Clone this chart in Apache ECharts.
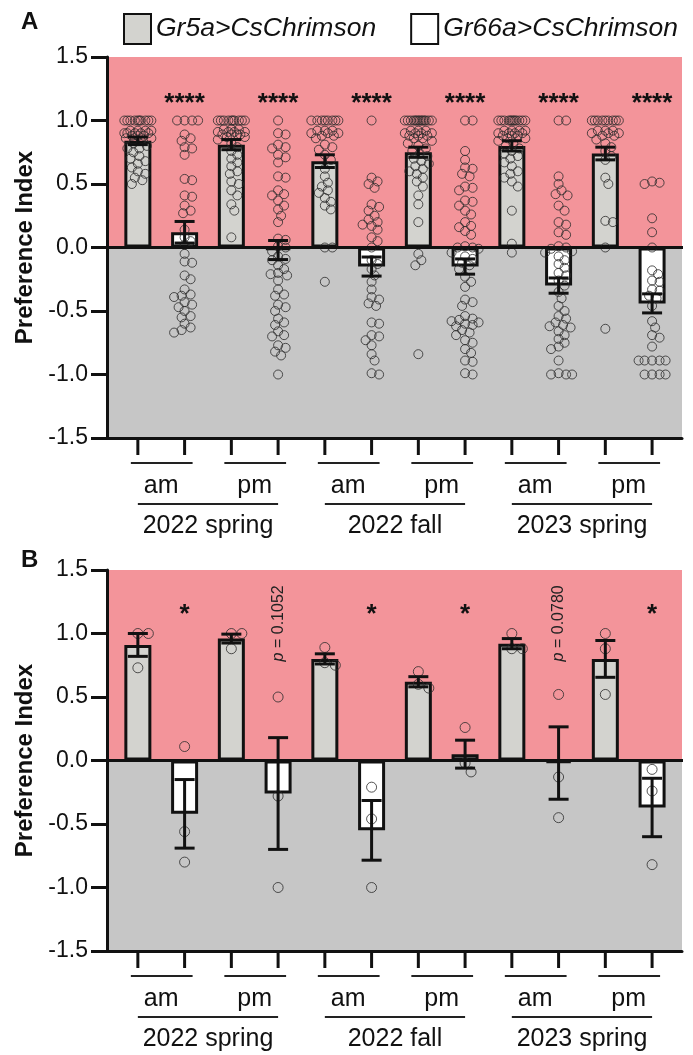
<!DOCTYPE html>
<html>
<head>
<meta charset="utf-8">
<script src="https://cdn.jsdelivr.net/npm/echarts@6/dist/echarts.min.js"></script>
<style>html,body{margin:0;padding:0;background:#fff}#c{width:693px;height:1055px}</style>
</head>
<body>
<div id="c"></div>
<script>
// ---------- data ----------
const seriesNames = ['Gr5a>CsChrimson', 'Gr66a>CsChrimson'];
const timeLabels = ['am', 'pm', 'am', 'pm', 'am', 'pm'];
const seasonLabels = ['2022 spring', '2022 fall', '2023 spring'];
const yTicks = [-1.5, -1.0, -0.5, 0.0, 0.5, 1.0, 1.5];

// Panel A
const aGr5aMean = [0.84, 0.81, 0.68, 0.75, 0.80, 0.74];
const aGr5aSem  = [0.03, 0.04, 0.05, 0.04, 0.04, 0.05];
const aGr66aMean = [0.12, -0.02, -0.15, -0.15, -0.30, -0.44];
const aGr66aSem  = [0.085, 0.075, 0.075, 0.06, 0.06, 0.075];
const aGr5aPts = [
  [1,1,1,1,1,1,1,1,1,1,0.92,0.92,0.92,0.92,0.90,0.90,0.90,0.90,0.90,0.88,0.88,0.88,0.86,0.86,0.84,0.82,0.80,0.78,0.78,0.75,0.72,0.70,0.68,0.66,0.63,0.60,0.58,0.55,0.53,0.50],
  [1,1,1,1,1,1,1,1,1,1,0.93,0.93,0.93,0.91,0.91,0.91,0.91,0.89,0.89,0.89,0.89,0.87,0.87,0.85,0.82,0.79,0.76,0.73,0.70,0.67,0.64,0.60,0.58,0.52,0.50,0.45,0.41,0.34,0.29,0.08],
  [1,1,1,1,1,1,1,1,0.92,0.92,0.92,0.90,0.90,0.90,0.88,0.88,0.86,0.81,0.79,0.77,0.73,0.69,0.62,0.56,0.51,0.48,0.45,0.43,0.39,0.36,0.33,0.30,0.0,0.0,-0.27],
  [1,1,1,1,1,1,1,1,1,1,1,1,1,1,0.92,0.92,0.92,0.90,0.90,0.90,0.90,0.88,0.88,0.88,0.86,0.86,0.84,0.82,0.80,0.78,0.76,0.74,0.72,0.70,0.68,0.66,0.64,0.62,0.60,0.58,0.55,0.52,0.48,0.41,0.34,0.20,-0.05,-0.10,-0.14,-0.84],
  [1,1,1,1,1,1,1,1,1,1,1,1,0.92,0.92,0.92,0.92,0.90,0.90,0.90,0.90,0.88,0.88,0.88,0.86,0.86,0.84,0.82,0.80,0.78,0.76,0.74,0.72,0.70,0.67,0.64,0.60,0.58,0.55,0.52,0.48,0.29,0.03,-0.04],
  [1,1,1,1,1,1,1,1,1,0.92,0.92,0.92,0.90,0.90,0.90,0.88,0.88,0.85,0.82,0.79,0.76,0.72,0.69,0.55,0.50,0.21,0.20,0.0,-0.64]
];
const aGr66aPts = [
  [1,1,1,1,0.89,0.86,0.84,0.79,0.78,0.73,0.54,0.53,0.41,0.40,0.33,0.29,0.27,0.14,0.08,0.05,0.02,-0.05,-0.11,-0.12,-0.22,-0.25,-0.33,-0.37,-0.38,-0.39,-0.43,-0.45,-0.47,-0.50,-0.54,-0.55,-0.60,-0.63,-0.65,-0.67],
  [1,0.90,0.89,0.81,0.79,0.78,0.73,0.71,0.67,0.56,0.55,0.45,0.42,0.41,0.37,0.33,0.30,0.25,0.20,0.07,0.06,0.01,0.0,-0.03,-0.07,-0.09,-0.10,-0.14,-0.17,-0.20,-0.21,-0.22,-0.26,-0.33,-0.37,-0.38,-0.45,-0.47,-0.50,-0.56,-0.59,-0.61,-0.66,-0.69,-0.70,-0.77,-0.79,-0.82,-0.85,-1.0],
  [1,0.55,0.52,0.50,0.47,0.34,0.32,0.29,0.25,0.22,0.20,0.18,0.17,0.14,0.08,0.05,0.0,-0.10,-0.13,-0.17,-0.22,-0.27,-0.33,-0.39,-0.41,-0.44,-0.46,-0.59,-0.60,-0.69,-0.70,-0.73,-0.77,-0.84,-0.89,-0.99,-1.0],
  [1,1,0.76,0.69,0.63,0.62,0.58,0.56,0.48,0.47,0.45,0.37,0.36,0.33,0.29,0.26,0.20,0.17,0.16,0.13,0.10,0.01,0.0,0.0,-0.01,-0.04,-0.07,-0.09,-0.12,-0.14,-0.17,-0.23,-0.27,-0.31,-0.41,-0.43,-0.46,-0.54,-0.56,-0.57,-0.58,-0.59,-0.60,-0.61,-0.62,-0.65,-0.67,-0.69,-0.73,-0.75,-0.80,-0.83,-0.89,-0.90,-0.99,-1.0],
  [1,1,0.56,0.50,0.45,0.42,0.41,0.33,0.29,0.20,0.18,0.12,0.10,0.01,0.0,-0.01,-0.03,-0.04,-0.07,-0.10,-0.13,-0.16,-0.20,-0.22,-0.26,-0.30,-0.35,-0.40,-0.46,-0.50,-0.54,-0.56,-0.59,-0.61,-0.62,-0.63,-0.66,-0.69,-0.72,-0.75,-0.78,-0.80,-0.89,-0.99,-1.0,-1.0,-1.0],
  [0.52,0.51,0.50,0.23,0.12,0.0,-0.18,-0.21,-0.26,-0.27,-0.33,-0.34,-0.38,-0.40,-0.46,-0.58,-0.63,-0.69,-0.71,-0.78,-0.89,-0.89,-0.89,-0.89,-0.89,-1.0,-1.0,-1.0,-1.0]
];
const aMarks = ['****', '****', '****', '****', '****', '****'];
const aMarkY = [1.19, 1.19, 1.19, 1.19, 1.19, 1.19];

// Panel B
const bGr5aMean = [0.91, 0.96, 0.80, 0.62, 0.92, 0.80];
const bGr5aSem  = [0.09, 0.035, 0.04, 0.04, 0.04, 0.145];
const bGr66aMean = [-0.42, -0.26, -0.55, 0.05, -0.02, -0.37];
const bGr66aSem  = [0.27, 0.44, 0.235, 0.11, 0.285, 0.23];
const bGr5aPts = [[1.0,1.0,0.73],[1.0,1.0,0.88],[0.89,0.77,0.75],[0.70,0.60,0.57],[1.0,0.88,0.88],[1.0,0.88,0.52]];
const bGr66aPts = [[0.11,-0.56,-0.80],[0.50,-0.28,-1.0],[-0.21,-0.46,-1.0],[0.26,-0.02,-0.09],[0.52,-0.13,-0.45],[-0.07,-0.24,-0.82]];
const bMarks = ['*', 'p = 0.1052', '*', '*', 'p = 0.0780', '*'];
const bMarkY = [1.2, 1.08, 1.2, 1.2, 1.08, 1.2];

// ---------- layout / style ----------
const FONT = 'Liberation Sans, Arial, sans-serif';
const X_MIN = -0.66, X_MAX = 11.64;
const PINK = '#F3949A', GREY_BG = '#C6C6C6', BAR_GREY = '#D3D3CF', INK = '#111';
const gridsPx = [{left: 107, top: 57, width: 575, height: 381}, {left: 107, top: 570, width: 575, height: 381}];

function swarm(values, center, pxX, pxY, D, maxW) {
  const placed = [], out = [];
  values.forEach(v => {
    const y = v * pxY;
    let best = 0, bestScore = -1;
    outer:
    for (let k = 0; k <= maxW / 1.5; k++) {
      for (const s of (k === 0 ? [1] : [1, -1])) {
        const dx = s * k * 1.5;
        let minD = Infinity;
        for (const p of placed) minD = Math.min(minD, Math.hypot(dx - p.x, y - p.y));
        if (minD >= D) { best = dx; bestScore = Infinity; break outer; }
        if (minD > bestScore) { bestScore = minD; best = dx; }
      }
    }
    placed.push({x: best, y});
    out.push([center + best / pxX, v]);
  });
  return out;
}

const series = [];
const xAxes = [], yAxes = [];

function panel(gi, m5, s5, m66, s66, p5, p66, marks, markY, dotD, maxW, dotSize) {
  const g = gridsPx[gi];
  const pxX = g.width / (X_MAX - X_MIN), pxY = g.height / 3;
  xAxes.push({gridIndex: gi, type: 'value', min: X_MIN, max: X_MAX, z: 10,
    axisLine: {show: true, onZero: false, lineStyle: {color: INK, width: 3}},
    axisTick: {show: false}, axisLabel: {show: false}, splitLine: {show: false}});
  yAxes.push({gridIndex: gi, type: 'value', min: yTicks[0], max: yTicks[yTicks.length - 1], interval: 0.5, z: 10,
    axisLine: {show: true, onZero: false, lineStyle: {color: INK, width: 3}},
    axisTick: {show: true, length: 16, lineStyle: {color: INK, width: 3}},
    axisLabel: {margin: 19, fontSize: 23, color: INK, fontFamily: FONT, formatter: v => v.toFixed(1)},
    splitLine: {show: false},
    name: 'Preference Index', nameLocation: 'middle', nameGap: 66,
    nameTextStyle: {fontSize: 24, fontWeight: 'bold', color: INK, fontFamily: FONT}});

  // background halves
  series.push({type: 'custom', xAxisIndex: gi, yAxisIndex: gi, z: 0, silent: true, clip: false,
    data: [[0]],
    renderItem: (params, api) => {
      const tl = api.coord([X_MIN, 1.5]), mid = api.coord([X_MAX, 0]), br = api.coord([X_MAX, -1.5]);
      return {type: 'group', children: [
        {type: 'rect', shape: {x: tl[0], y: tl[1], width: mid[0] - tl[0], height: mid[1] - tl[1]}, style: {fill: PINK}},
        {type: 'rect', shape: {x: tl[0], y: mid[1], width: br[0] - tl[0], height: br[1] - mid[1]}, style: {fill: GREY_BG}}
      ]};
    }});

  // bars
  series.push({name: seriesNames[0], type: 'bar', xAxisIndex: gi, yAxisIndex: gi, z: 2, barWidth: 27, barGap: '-100%',
    itemStyle: {color: BAR_GREY, borderColor: INK, borderWidth: 3}, silent: true,
    data: m5.map((v, i) => [2 * i, v])});
  series.push({name: seriesNames[1], type: 'bar', xAxisIndex: gi, yAxisIndex: gi, z: 2, barWidth: 27, barGap: '-100%',
    itemStyle: {color: '#FFFFFF', borderColor: INK, borderWidth: 3}, silent: true,
    data: m66.map((v, i) => [2 * i + 1, v])});

  // dots
  const dots = [];
  p5.forEach((vals, i) => dots.push(...swarm(vals, 2 * i, pxX, pxY, dotD, maxW)));
  p66.forEach((vals, i) => dots.push(...swarm(vals, 2 * i + 1, pxX, pxY, dotD, maxW)));
  series.push({type: 'scatter', xAxisIndex: gi, yAxisIndex: gi, z: 3, symbol: 'circle', symbolSize: dotSize, silent: true,
    itemStyle: {color: 'rgba(0,0,0,0)', borderColor: '#2b2b2b', borderWidth: 1}, data: dots});

  // error bars
  const eb = [];
  m5.forEach((v, i) => eb.push([2 * i, v, s5[i]]));
  m66.forEach((v, i) => eb.push([2 * i + 1, v, s66[i]]));
  series.push({type: 'custom', xAxisIndex: gi, yAxisIndex: gi, z: 4, silent: true, clip: false, data: eb,
    renderItem: (params, api) => {
      const x = api.value(0), m = api.value(1), s = api.value(2);
      const t = api.coord([x, m + s]), b = api.coord([x, m - s]);
      const st = {stroke: INK, lineWidth: 3};
      return {type: 'group', children: [
        {type: 'line', shape: {x1: t[0], y1: t[1], x2: b[0], y2: b[1]}, style: st},
        {type: 'line', shape: {x1: t[0] - 10, y1: t[1], x2: t[0] + 10, y2: t[1]}, style: st},
        {type: 'line', shape: {x1: b[0] - 10, y1: b[1], x2: b[0] + 10, y2: b[1]}, style: st}
      ]};
    }});

  // zero line
  series.push({type: 'custom', xAxisIndex: gi, yAxisIndex: gi, z: 5, silent: true, clip: false, data: [[0]],
    renderItem: (params, api) => {
      const a = api.coord([X_MIN, 0]), b = api.coord([X_MAX, 0]);
      return {type: 'line', shape: {x1: a[0], y1: a[1], x2: b[0] + 1, y2: b[1]}, style: {stroke: INK, lineWidth: 3}};
    }});

  // significance marks
  series.push({type: 'custom', xAxisIndex: gi, yAxisIndex: gi, z: 6, silent: true, clip: false,
    data: marks.map((t, i) => [2 * i + 1, markY[i], i]),
    renderItem: (params, api) => {
      const p = api.coord([api.value(0), api.value(1)]);
      const label = marks[api.value(2)];
      if (label.charAt(0) === 'p') {
        return {type: 'text', x: p[0], y: p[1], rotation: Math.PI / 2,
          style: {text: '{i|p}' + label.slice(1), rich: {i: {fontStyle: 'italic', fontSize: 16, fontFamily: FONT, fill: '#222'}},
            fontSize: 16, fontFamily: FONT, fill: '#222', align: 'center', verticalAlign: 'middle'}};
      }
      return {type: 'text', x: p[0], y: p[1] + 7,
        style: {text: label, fontSize: 26, fontWeight: 'bold', fontFamily: FONT, fill: INK, align: 'center', verticalAlign: 'middle'}};
    }});

  // x ticks + am/pm labels
  series.push({type: 'custom', xAxisIndex: gi, yAxisIndex: gi, z: 6, silent: true, clip: false,
    data: timeLabels.map((t, i) => [2 * i, 2 * i + 1, i]),
    renderItem: (params, api) => {
      const a = api.coord([api.value(0), -1.5]), b = api.coord([api.value(1), -1.5]);
      const y0 = a[1];
      const st = {stroke: INK, lineWidth: 3};
      return {type: 'group', children: [
        {type: 'line', shape: {x1: a[0], y1: y0, x2: a[0], y2: y0 + 17}, style: st},
        {type: 'line', shape: {x1: b[0], y1: y0, x2: b[0], y2: y0 + 17}, style: st},
        {type: 'line', shape: {x1: a[0] - 7, y1: y0 + 25, x2: b[0] + 8, y2: y0 + 25}, style: {stroke: '#222', lineWidth: 2}},
        {type: 'text', x: (a[0] + b[0]) / 2, y: y0 + 48,
          style: {text: timeLabels[api.value(2)], fontSize: 25, fontFamily: FONT, fill: INK, align: 'center', verticalAlign: 'middle'}}
      ]};
    }});

  // season labels
  series.push({type: 'custom', xAxisIndex: gi, yAxisIndex: gi, z: 6, silent: true, clip: false,
    data: seasonLabels.map((t, i) => [4 * i, 4 * i + 3, i]),
    renderItem: (params, api) => {
      const a = api.coord([api.value(0), -1.5]), b = api.coord([api.value(1), -1.5]);
      const y0 = a[1];
      return {type: 'group', children: [
        {type: 'line', shape: {x1: a[0], y1: y0 + 66, x2: b[0], y2: y0 + 66}, style: {stroke: '#222', lineWidth: 2}},
        {type: 'text', x: (a[0] + b[0]) / 2, y: y0 + 88,
          style: {text: seasonLabels[api.value(2)], fontSize: 25, fontFamily: FONT, fill: INK, align: 'center', verticalAlign: 'middle'}}
      ]};
    }});
}

panel(0, aGr5aMean, aGr5aSem, aGr66aMean, aGr66aSem, aGr5aPts, aGr66aPts, aMarks, aMarkY, 7, 14, 9);
panel(1, bGr5aMean, bGr5aSem, bGr66aMean, bGr66aSem, bGr5aPts, bGr66aPts, bMarks, bMarkY, 10, 15, 10);

const chart = echarts.init(document.getElementById('c'), null, {renderer: 'canvas'});
chart.setOption({
  animation: false,
  backgroundColor: '#fff',
  title: [
    {text: 'A', left: 16, top: 5, textStyle: {fontSize: 24, fontWeight: 'bold', color: INK, fontFamily: FONT}},
    {text: 'B', left: 16, top: 543, textStyle: {fontSize: 24, fontWeight: 'bold', color: INK, fontFamily: FONT}}
  ],
  legend: {left: 118, top: 8, itemWidth: 27, itemHeight: 30, itemGap: 34, icon: 'rect', selectedMode: false,
    data: seriesNames,
    itemStyle: {borderColor: INK, borderWidth: 2},
    textStyle: {fontSize: 26.5, fontStyle: 'italic', color: INK, fontFamily: FONT}},
  grid: gridsPx.map(g => Object.assign({containLabel: false}, g)),
  xAxis: xAxes,
  yAxis: yAxes,
  series: series
});
</script>
</body>
</html>
